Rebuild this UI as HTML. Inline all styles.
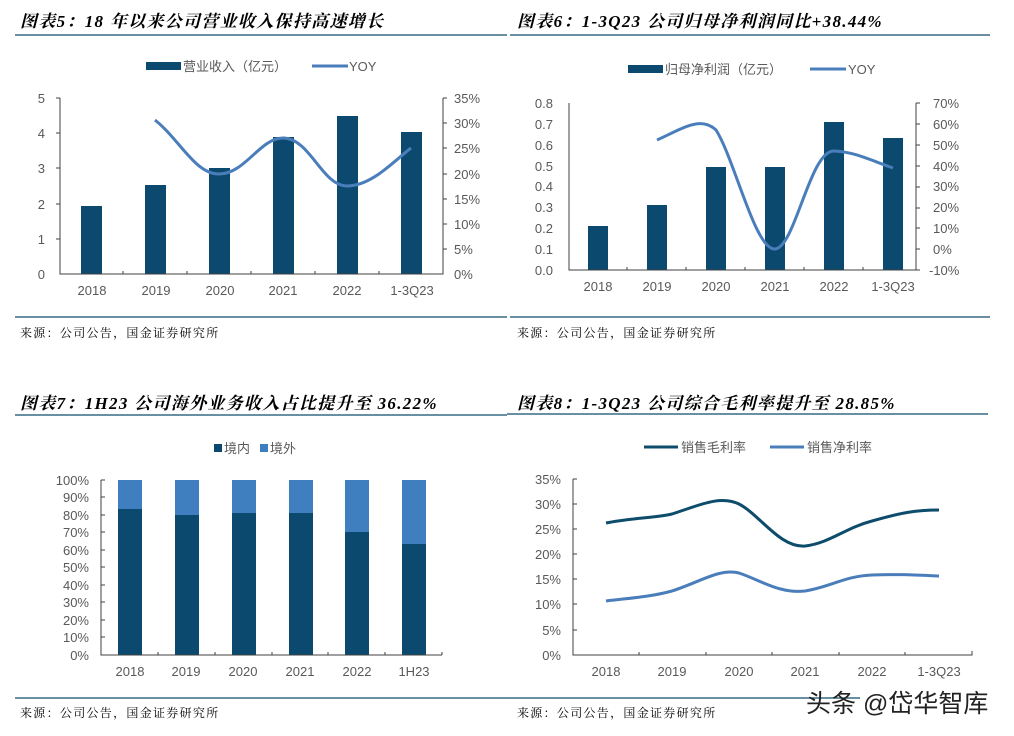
<!DOCTYPE html><html><head><meta charset="utf-8"><style>
body{margin:0;background:#fff;width:1014px;height:736px;overflow:hidden}
svg{display:block}
.t{font-family:"Liberation Serif","Noto Serif CJK SC",serif;font-weight:bold;font-style:italic;font-size:17px;fill:#000;letter-spacing:1.3px}
.s{font-family:"Liberation Serif","Noto Serif CJK SC",serif;font-size:12px;fill:#000;letter-spacing:1.3px}
.a{font-family:"Liberation Sans","Noto Sans CJK SC",sans-serif;font-size:13px;fill:#595959}
</style></head><body>
<svg width="1014" height="736" viewBox="0 0 1014 736">
<g stroke="#0e4c6b" stroke-width="1.2">
<line x1="15" y1="35" x2="507" y2="35"/><line x1="510" y1="35" x2="990" y2="35"/>
<line x1="15" y1="317" x2="507" y2="317"/><line x1="510" y1="317" x2="990" y2="317"/>
<line x1="15" y1="415" x2="507" y2="415"/><line x1="507" y1="414" x2="988" y2="414"/>
<line x1="15" y1="698" x2="507" y2="698"/><line x1="507" y1="698" x2="860" y2="698"/>
</g>
<text class="t" x="20" y="27">图表5：18 年以来公司营业收入保持高速增长</text>
<text class="t" x="517" y="27">图表6：1-3Q23 公司归母净利润同比+38.44%</text>
<text class="t" x="20" y="409">图表7：1H23 公司海外业务收入占比提升至 36.22%</text>
<text class="t" x="517" y="409">图表8：1-3Q23 公司综合毛利率提升至 28.85%</text>
<text class="s" x="20" y="337">来源：公司公告，国金证券研究所</text>
<text class="s" x="517" y="337">来源：公司公告，国金证券研究所</text>
<text class="s" x="20" y="717">来源：公司公告，国金证券研究所</text>
<text class="s" x="517" y="717">来源：公司公告，国金证券研究所</text>

<!-- Chart 1 -->
<rect x="146" y="62" width="35" height="8" fill="#0b4a6e"/><text class="a" x="183" y="71">营业收入（亿元）</text>
<line x1="312" y1="66" x2="348" y2="66" stroke="#4a7ebb" stroke-width="3"/><text class="a" x="349" y="71">YOY</text>
<g fill="#0b4a6e">
<rect x="81" y="206" width="21" height="68"/><rect x="145" y="185" width="21" height="89"/><rect x="209" y="168" width="21" height="106"/>
<rect x="273" y="137" width="21" height="137"/><rect x="337" y="116" width="21" height="158"/><rect x="401" y="132" width="21" height="142"/>
</g>
<path d="M155,120 C180,140 195,174 219,174 C245,174 260,138 283,138 C310,138 322,186 347,186 C372,186 395,160 411,148" fill="none" stroke="#4a7ebb" stroke-width="3"/>
<g stroke="#404040" fill="none"><path d="M60,98 V274 H443 V98"/>
<path d="M56,98H60M56,133H60M56,168H60M56,204H60M56,239H60M443,123H447M443,148H447M443,174H447M443,199H447M443,224H447M443,249H447M443,98H447M123,274v-3M187,274v-3M251,274v-3M315,274v-3M379,274v-3"/></g>
<g class="a" text-anchor="end"><text x="45" y="103">5</text><text x="45" y="138">4</text><text x="45" y="173">3</text><text x="45" y="209">2</text><text x="45" y="244">1</text><text x="45" y="279">0</text></g>
<g class="a"><text x="454" y="103">35%</text><text x="454" y="128">30%</text><text x="454" y="153">25%</text><text x="454" y="179">20%</text><text x="454" y="204">15%</text><text x="454" y="229">10%</text><text x="454" y="254">5%</text><text x="454" y="279">0%</text></g>
<g class="a" text-anchor="middle"><text x="92" y="295">2018</text><text x="156" y="295">2019</text><text x="220" y="295">2020</text><text x="283" y="295">2021</text><text x="347" y="295">2022</text><text x="412" y="295">1-3Q23</text></g>

<!-- Chart 2 -->
<rect x="628" y="65" width="35" height="8" fill="#0b4a6e"/><text class="a" x="665" y="74">归母净利润（亿元）</text>
<line x1="810" y1="69" x2="846" y2="69" stroke="#4a7ebb" stroke-width="3"/><text class="a" x="848" y="74">YOY</text>
<g fill="#0b4a6e">
<rect x="588" y="226" width="20" height="44"/><rect x="647" y="205" width="20" height="65"/><rect x="706" y="167" width="20" height="103"/>
<rect x="765" y="167" width="20" height="103"/><rect x="824" y="122" width="20" height="148"/><rect x="883" y="138" width="20" height="132"/>
</g>
<path d="M657,140 C680,130 700,115 716,130 C735,160 755,250 775,249 C795,248 810,150 834,151 C855,152 870,160 893,168" fill="none" stroke="#4a7ebb" stroke-width="3"/>
<g stroke="#404040" fill="none"><path d="M569,103 V270 H916 V103"/>
<path d="M916,103h4M916,124h4M916,145h4M916,166h4M916,187h4M916,208h4M916,228h4M916,249h4M916,270h4M627,270v-3M686,270v-3M745,270v-3M804,270v-3M863,270v-3"/></g>
<g class="a" text-anchor="end"><text x="553" y="108">0.8</text><text x="553" y="129">0.7</text><text x="553" y="150">0.6</text><text x="553" y="171">0.5</text><text x="553" y="191">0.4</text><text x="553" y="212">0.3</text><text x="553" y="233">0.2</text><text x="553" y="254">0.1</text><text x="553" y="275">0.0</text></g>
<g class="a"><text x="933" y="108">70%</text><text x="933" y="129">60%</text><text x="933" y="150">50%</text><text x="933" y="171">40%</text><text x="933" y="191">30%</text><text x="933" y="212">20%</text><text x="933" y="233">10%</text><text x="933" y="254">0%</text><text x="929" y="275">-10%</text></g>
<g class="a" text-anchor="middle"><text x="598" y="291">2018</text><text x="657" y="291">2019</text><text x="716" y="291">2020</text><text x="775" y="291">2021</text><text x="834" y="291">2022</text><text x="893" y="291">1-3Q23</text></g>

<!-- Chart 3 -->
<rect x="214" y="444" width="8" height="8" fill="#0b4a6e"/><text class="a" x="224" y="453">境内</text>
<rect x="260" y="444" width="8" height="8" fill="#3f7fc0"/><text class="a" x="270" y="453">境外</text>
<g fill="#3f7fc0"><rect x="118" y="480" width="24" height="30"/><rect x="175" y="480" width="24" height="35"/><rect x="232" y="480" width="24" height="33"/><rect x="289" y="480" width="24" height="33"/><rect x="345" y="480" width="24" height="52"/><rect x="402" y="480" width="24" height="64"/></g>
<g fill="#0b4a6e"><rect x="118" y="509" width="24" height="146"/><rect x="175" y="515" width="24" height="140"/><rect x="232" y="513" width="24" height="142"/><rect x="289" y="513" width="24" height="142"/><rect x="345" y="532" width="24" height="123"/><rect x="402" y="544" width="24" height="111"/></g>
<g stroke="#404040" fill="none"><path d="M101,480 V655 H442"/>
<path d="M101,480h4M101,497h4M101,515h4M101,532h4M101,550h4M101,567h4M101,585h4M101,602h4M101,620h4M101,637h4M158,655v-3M215,655v-3M272,655v-3M328,655v-3M385,655v-3M442,655v-3"/></g>
<g class="a" text-anchor="end"><text x="89" y="485">100%</text><text x="89" y="502">90%</text><text x="89" y="520">80%</text><text x="89" y="537">70%</text><text x="89" y="555">60%</text><text x="89" y="572">50%</text><text x="89" y="590">40%</text><text x="89" y="607">30%</text><text x="89" y="625">20%</text><text x="89" y="642">10%</text><text x="89" y="660">0%</text></g>
<g class="a" text-anchor="middle"><text x="130" y="676">2018</text><text x="186" y="676">2019</text><text x="243" y="676">2020</text><text x="300" y="676">2021</text><text x="357" y="676">2022</text><text x="414" y="676">1H23</text></g>

<!-- Chart 4 -->
<line x1="644" y1="447" x2="678" y2="447" stroke="#0e4c6b" stroke-width="3"/><text class="a" x="681" y="452">销售毛利率</text>
<line x1="770" y1="447" x2="804" y2="447" stroke="#4a7ebb" stroke-width="3"/><text class="a" x="807" y="452">销售净利率</text>
<path d="M606,523 C630,518 655,518 672,514 C700,505 720,495 739,504 C760,515 780,548 805,546 C830,543 845,528 872,521 C900,513 915,510 939,510" fill="none" stroke="#0e4c6b" stroke-width="3"/>
<path d="M606,601 C630,598 650,597 672,591 C700,582 720,568 739,573 C760,580 780,594 805,591 C830,587 845,576 872,575 C900,574 915,575 939,576" fill="none" stroke="#4a7ebb" stroke-width="3"/>
<g stroke="#404040" fill="none"><path d="M573,479 V655 H972 V651"/>
<path d="M573,479h4M573,504h4M573,529h4M573,554h4M573,579h4M573,604h4M573,630h4M639,655v-3M706,655v-3M772,655v-3M839,655v-3M905,655v-3"/></g>
<g class="a" text-anchor="end"><text x="561" y="484">35%</text><text x="561" y="509">30%</text><text x="561" y="534">25%</text><text x="561" y="559">20%</text><text x="561" y="584">15%</text><text x="561" y="609">10%</text><text x="561" y="635">5%</text><text x="561" y="660">0%</text></g>
<g class="a" text-anchor="middle"><text x="606" y="676">2018</text><text x="672" y="676">2019</text><text x="739" y="676">2020</text><text x="805" y="676">2021</text><text x="872" y="676">2022</text><text x="939" y="676">1-3Q23</text></g>
<text x="806" y="712" style="font-family:'Liberation Sans','Noto Sans CJK SC',sans-serif;font-size:25px;fill:#222">头条 @岱华智库</text>
</svg></body></html>
